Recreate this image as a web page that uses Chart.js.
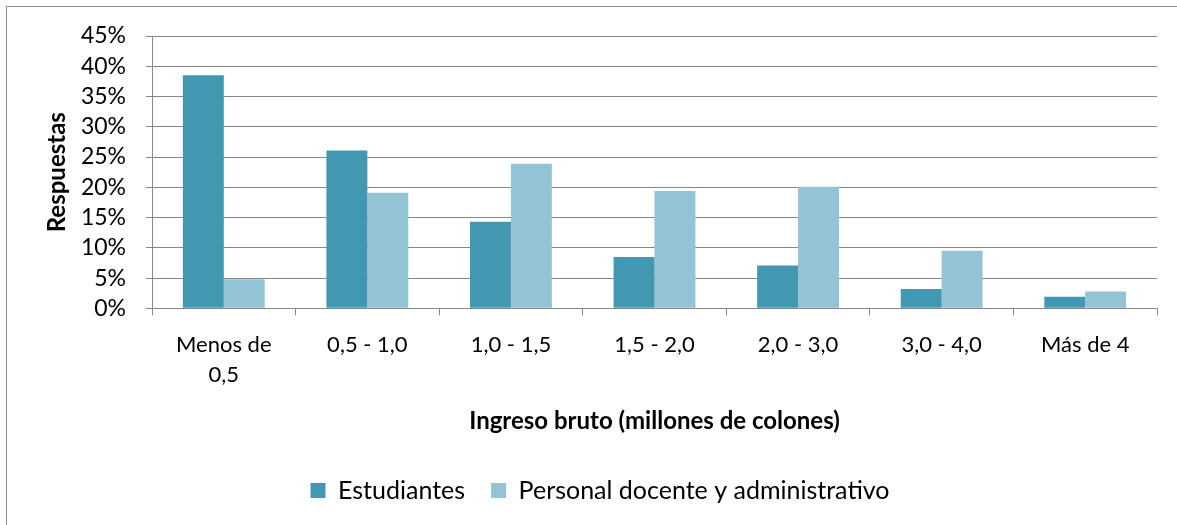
<!DOCTYPE html>
<html>
<head>
<meta charset="utf-8">
<script src="https://cdn.jsdelivr.net/npm/chart.js@4"></script>
<style>
  body { margin: 0; background: #fff; }
  #wrap { position: absolute; left: 0; top: 0; width: 1177px; height: 525px; }
  #frame { position: absolute; left: 6px; top: 6px; width: 1180px; height: 530px; border: 1px solid #8c8c8c; box-sizing: border-box; }
</style>
</head>
<body>
<div id="wrap">
  <div id="frame"></div>
  <canvas id="chart" width="1177" height="525"></canvas>
</div>
<script>
  var categories = [['Menos de', '0,5'], '0,5 - 1,0', '1,0 - 1,5', '1,5 - 2,0', '2,0 - 3,0', '3,0 - 4,0', 'Más de 4'];
  var estudiantes = [38.5, 26.1, 14.3, 8.5, 7.1, 3.2, 1.9];
  var personal = [4.8, 19.1, 23.9, 19.4, 20.1, 9.5, 2.8];
  var yTicks = [0, 5, 10, 15, 20, 25, 30, 35, 40, 45];

  var fontFamily = 'Lato, "Open Sans", sans-serif';
  var gridGray = '#878787';

  var ctx = document.getElementById('chart');
  var chart = new Chart(ctx, {
    type: 'bar',
    data: {
      labels: categories,
      datasets: [{
        label: 'Estudiantes',
        data: estudiantes,
        backgroundColor: '#4398b1',
        borderWidth: 0
      }, {
        label: 'Personal docente y administrativo',
        data: personal,
        backgroundColor: '#93c3d4',
        borderWidth: 0
      }]
    },
    options: {
      responsive: false,
      animation: false,
      devicePixelRatio: 1,
      layout: { padding: { top: 36, right: 20, left: 43, bottom: 12 } },
      categoryPercentage: 0.57,
      barPercentage: 1.0,
      plugins: {
        tooltip: { enabled: false },
        legend: {
          position: 'bottom',
          labels: {
            color: '#000',
            font: { family: fontFamily, size: 25 },
            boxWidth: 15,
            boxHeight: 15,
            padding: 26
          }
        }
      },
      scales: {
        x: {
          grid: { display: true, drawOnChartArea: false, drawTicks: true, tickLength: 7, color: gridGray, offset: true },
          border: { display: true, color: gridGray, width: 1 },
          ticks: { color: '#000', font: { family: fontFamily, size: 22, lineHeight: 1.36 }, padding: 15, maxRotation: 0, autoSkip: false },
          title: {
            display: true,
            text: 'Ingreso bruto (millones de colones)',
            color: '#000',
            font: { family: fontFamily, size: 24, weight: 'bold' },
            padding: { top: 2, bottom: 16 }
          }
        },
        y: {
          min: 0,
          max: 45,
          afterBuildTicks: function (axis) {
            axis.ticks = yTicks.map(function (v) { return { value: v }; });
          },
          afterFit: function (axis) { axis.width = 109; },
          grid: { color: gridGray, lineWidth: 1, drawTicks: true, tickLength: 6 },
          border: { display: true, color: gridGray, width: 1 },
          ticks: {
            color: '#000',
            font: { family: fontFamily, size: 23 },
            padding: 20,
            autoSkip: false,
            callback: function (v) { return v + '%'; }
          },
          title: {
            display: true,
            text: 'Respuestas',
            color: '#000',
            font: { family: fontFamily, size: 24, weight: 'bold' },
            padding: { top: 0, bottom: 0 }
          }
        }
      }
    }
  });
</script>
</body>
</html>
